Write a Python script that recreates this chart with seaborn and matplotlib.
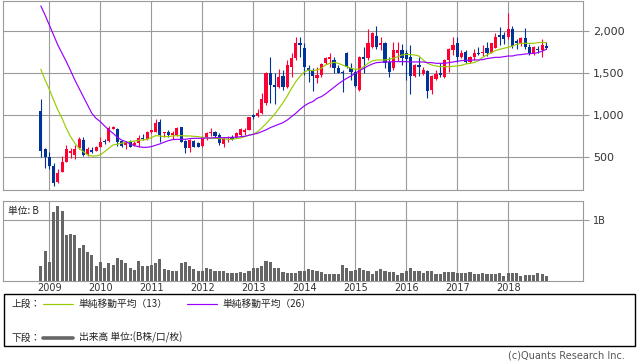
import numpy as np
import pandas as pd
import matplotlib
matplotlib.use("Agg")
import matplotlib.pyplot as plt
import seaborn as sns
from matplotlib.lines import Line2D
from matplotlib.patches import Rectangle

# ---------------- data (monthly, Nov 2008 - Oct 2018) ----------------
start_month = "2008-11"
end_month = "2018-10"

opens = [1052, 599, 508, 401, 202, 329, 448, 555, 532, 607, 706, 540,
         587, 579, 627, 694, 694, 841, 841, 694, 647, 686,
         647, 667, 734, 714, 802, 806, 925, 786, 806, 770,
         766, 865, 698, 607, 698, 667, 635, 738, 786, 798,
         766, 659, 730, 746, 746, 766, 806, 826, 1004, 992,
         1024, 1151, 1500, 1361, 1341, 1468, 1333, 1580, 1679, 1857,
         1798, 1560, 1530, 1440, 1480, 1619, 1675, 1659, 1560, 1520,
         1746, 1567, 1520, 1302, 1690, 1679, 1817, 1944, 1837, 1857,
         1639, 1560, 1738, 1778, 1738, 1698, 1468, 1599, 1492, 1532,
         1302, 1433, 1508, 1460, 1659, 1778, 1857, 1698, 1758, 1639,
         1690, 1746, 1738, 1798, 1746, 1798, 1956, 1956, 1932, 2027,
         1889, 1857, 1917, 1817, 1740, 1790, 1780, 1825]

highs = [1200, 615, 568, 437, 360, 520, 646, 615, 646, 746, 746, 620,
         620, 635, 738, 720, 873, 873, 853, 700, 690, 700,
         690, 760, 778, 810, 830, 956, 956, 806, 830, 810,
         865, 865, 710, 714, 706, 680, 750, 800, 853, 810,
         790, 738, 750, 760, 800, 845, 845, 985, 1020, 1080,
         1262, 1520, 1698, 1500, 1548, 1540, 1659, 1738, 1929, 1929,
         1860, 1600, 1560, 1580, 1620, 1690, 1738, 1690, 1600, 1540,
         1758, 1619, 1540, 1706, 1817, 2024, 1990, 2063, 1937, 1877,
         1700, 1877, 1877, 1850, 1778, 1837, 1612, 1698, 1580, 1540,
         1480, 1540, 1619, 1667, 1798, 1937, 1937, 1778, 1778, 1706,
         1786, 1817, 1837, 1877, 1865, 1976, 2055, 1996, 2222, 2063,
         1910, 1930, 2040, 1850, 1830, 1830, 1905, 1870]

lows = [508, 369, 360, 158, 190, 329, 440, 495, 475, 600, 510, 520,
        550, 575, 625, 660, 686, 835, 635, 625, 600, 620,
        630, 627, 700, 710, 790, 800, 687, 746, 746, 720,
        750, 687, 548, 567, 620, 620, 627, 710, 750, 730,
        650, 627, 680, 700, 730, 750, 770, 820, 960, 985,
        1020, 1120, 1143, 1135, 1320, 1300, 1320, 1452, 1660, 1700,
        1480, 1400, 1294, 1380, 1460, 1610, 1579, 1508, 1500, 1282,
        1560, 1421, 1341, 1294, 1500, 1659, 1800, 1786, 1778, 1560,
        1452, 1540, 1650, 1600, 1421, 1250, 1452, 1468, 1480, 1202,
        1250, 1420, 1460, 1440, 1520, 1720, 1639, 1680, 1627, 1620,
        1660, 1720, 1710, 1710, 1738, 1798, 1837, 1849, 1910, 1798,
        1790, 1820, 1790, 1718, 1720, 1740, 1698, 1790]

closes = [579, 500, 401, 199, 317, 448, 599, 579, 603, 714, 532, 595,
          567, 627, 686, 682, 853, 861, 686, 635, 682, 627,
          667, 734, 714, 806, 825, 913, 766, 798, 766, 794,
          845, 687, 607, 706, 627, 627, 746, 786, 798, 754,
          667, 714, 746, 718, 794, 833, 825, 976, 976, 1032,
          1190, 1500, 1361, 1341, 1460, 1333, 1600, 1679, 1857, 1837,
          1571, 1530, 1470, 1480, 1607, 1679, 1690, 1560, 1508, 1508,
          1579, 1520, 1349, 1698, 1675, 1857, 1976, 1817, 1857, 1619,
          1520, 1778, 1778, 1679, 1667, 1468, 1599, 1579, 1540, 1294,
          1468, 1492, 1480, 1659, 1786, 1837, 1698, 1746, 1639, 1690,
          1746, 1730, 1758, 1738, 1857, 1937, 1929, 1908, 2030, 1825,
          1865, 1917, 1817, 1740, 1813, 1775, 1837, 1806]

ma13 = [1548, 1421, 1310, 1183, 1064, 964, 845, 746, 667, 607, 567, 528,
        516, 516, 528, 567, 607, 647, 655, 667, 679, 687,
        694, 702, 706, 714, 734, 758, 754, 746, 746, 754,
        758, 758, 754, 754, 750, 746, 738, 730, 726, 726,
        722, 722, 714, 714, 722, 730, 746, 766, 774, 805,
        850, 900, 955, 1010, 1080, 1150, 1230, 1320, 1400, 1465,
        1515, 1540, 1532, 1540, 1560, 1599, 1619, 1631, 1619, 1599,
        1579, 1560, 1548, 1548, 1579, 1619, 1647, 1659, 1659, 1659,
        1667, 1679, 1698, 1718, 1726, 1722, 1718, 1706, 1659, 1619,
        1599, 1587, 1579, 1579, 1579, 1583, 1587, 1595, 1611, 1619,
        1627, 1651, 1690, 1718, 1746, 1770, 1786, 1798, 1810, 1825,
        1845, 1857, 1857, 1857, 1857, 1865, 1869, 1865]

ma26 = [2302, 2194, 2075, 1956, 1837, 1738, 1639, 1532, 1421, 1321, 1222, 1123,
        1024, 964, 925, 873, 826, 786, 738, 706, 687, 659,
        639, 627, 619, 619, 627, 643, 659, 679, 698, 710,
        714, 714, 714, 722, 726, 726, 726, 730, 730, 734,
        734, 734, 734, 738, 738, 746, 750, 762, 774, 786,
        806, 826, 853, 873, 893, 913, 944, 984, 1024, 1071,
        1111, 1143, 1163, 1202, 1222, 1254, 1294, 1333, 1373, 1409,
        1440, 1468, 1500, 1532, 1560, 1587, 1611, 1627, 1631, 1635,
        1635, 1639, 1639, 1639, 1639, 1635, 1635, 1635, 1635, 1627,
        1627, 1619, 1619, 1619, 1627, 1635, 1643, 1651, 1655, 1655,
        1659, 1659, 1663, 1675, 1683, 1690, 1690, 1698, 1706, 1706,
        1718, 1722, 1730, 1734, 1738, 1746, 1765, 1786]

volume_b = [0.23, 0.48, 0.31, 1.12, 1.22, 1.14, 0.74, 0.77, 0.74, 0.54, 0.59, 0.47,
            0.41, 0.24, 0.30, 0.20, 0.28, 0.26, 0.37, 0.34, 0.28, 0.21,
            0.18, 0.32, 0.24, 0.23, 0.26, 0.28, 0.36, 0.19, 0.18, 0.16,
            0.16, 0.28, 0.30, 0.23, 0.19, 0.15, 0.15, 0.20, 0.19, 0.16,
            0.16, 0.15, 0.13, 0.13, 0.13, 0.14, 0.13, 0.15, 0.21, 0.21,
            0.23, 0.32, 0.30, 0.21, 0.20, 0.14, 0.12, 0.13, 0.13, 0.15,
            0.16, 0.19, 0.17, 0.16, 0.14, 0.11, 0.11, 0.11, 0.11, 0.26,
            0.21, 0.15, 0.18, 0.20, 0.18, 0.16, 0.11, 0.16, 0.19, 0.15,
            0.14, 0.14, 0.09, 0.12, 0.16, 0.21, 0.16, 0.15, 0.12, 0.15,
            0.15, 0.11, 0.11, 0.14, 0.14, 0.14, 0.13, 0.12, 0.12, 0.14,
            0.11, 0.11, 0.12, 0.10, 0.10, 0.11, 0.13, 0.08, 0.12, 0.13,
            0.12, 0.08, 0.09, 0.09, 0.09, 0.12, 0.10, 0.07]

year_labels = ["2009", "2010", "2011", "2012", "2013",
               "2014", "2015", "2016", "2017", "2018"]
price_ticks = [500, 1000, 1500, 2000]
price_tick_labels = ["500", "1,000", "1,500", "2,000"]
vol_ticks = [1.0]
vol_tick_labels = ["1B"]

# ---------------- build frame ----------------
periods = pd.period_range(start_month, end_month, freq="M")
df = pd.DataFrame({
    "x": (periods.year - int(year_labels[0])) * 12 + (periods.month - 1),
    "open": opens, "high": highs, "low": lows, "close": closes,
    "ma13": ma13, "ma26": ma26, "vol": volume_b,
})
year_pos = [(int(y) - int(year_labels[0])) * 12 for y in year_labels]

UP, DOWN = "#FF0033", "#003399"
GRID = "#9a9a9a"
JP = ["Noto Sans CJK JP", "DejaVu Sans"]

sns.set_style("white")
plt.rcParams["font.family"] = ["DejaVu Sans", "Noto Sans CJK JP"]

W, H = 638, 362
fig = plt.figure(figsize=(W / 100, H / 100), dpi=100)
fx = lambda px: px / W
fy = lambda py: 1 - py / H

ax = fig.add_axes([fx(3), fy(190), fx(580), 189.5 / H])
axv = fig.add_axes([fx(3), fy(280.5), fx(580), 79.5 / H])

xlim = (-10.9, 125.6)

# ---- price panel ----
colors = np.where(df["close"] >= df["open"], UP, DOWN)
ax.vlines(df["x"], df["low"], df["high"], colors=colors, lw=0.8, zorder=3)
body_lo = np.minimum(df["open"], df["close"])
body_h = np.maximum((df["close"] - df["open"]).abs(), 10)
ax.bar(df["x"], body_h, bottom=body_lo, width=0.72, color=colors, lw=0, zorder=4)
sns.lineplot(data=df, x="x", y="ma13", ax=ax, color="#99CC00", lw=0.85, zorder=5)
sns.lineplot(data=df, x="x", y="ma26", ax=ax, color="#9900FF", lw=0.85, zorder=5)

ax.set_xlim(*xlim)
ax.set_ylim(110.7, 2366.7)
ax.set_xticks(year_pos)
ax.set_xticklabels([])
ax.set_xlabel("")
ax.set_ylabel("")
ax.yaxis.tick_right()
ax.set_yticks(price_ticks)
ax.set_yticklabels(price_tick_labels)
ax.tick_params(axis="x", length=0)
ax.tick_params(axis="y", length=4, width=0.8, color=GRID, pad=3, labelsize=8,
               labelcolor="#333333")
ax.grid(True, color=GRID, lw=0.8)
ax.set_axisbelow(True)
for s in ax.spines.values():
    s.set_color(GRID)
    s.set_linewidth(0.8)

# ---- volume panel ----
axv.bar(df["x"], df["vol"], width=0.72, color="#666666", lw=0, zorder=3)
axv.set_xlim(*xlim)
axv.set_ylim(0, 79.5 / 61)
axv.set_xticks(year_pos)
axv.set_xticklabels(year_labels)
axv.yaxis.tick_right()
axv.set_yticks(vol_ticks)
axv.set_yticklabels(vol_tick_labels)
axv.tick_params(axis="x", length=0, pad=2, labelsize=7, labelcolor="#333333")
axv.tick_params(axis="y", length=4, width=0.8, color=GRID, pad=3, labelsize=7,
                labelcolor="#333333")
axv.grid(True, color=GRID, lw=0.8)
axv.set_axisbelow(True)
for s in axv.spines.values():
    s.set_color(GRID)
    s.set_linewidth(0.8)
fig.text(fx(8), fy(210.5), "単位: B", family=JP, fontsize=7, color="#222222",
         ha="left", va="center")

# ---- legend box ----
fig.add_artist(Rectangle((fx(3.5), fy(346)), fx(631), 52 / H, fill=False,
                         edgecolor="black", lw=1, transform=fig.transFigure))
fig.text(fx(12), fy(303.5), "上段：", family=JP, fontsize=7, ha="left", va="center",
         color="#222222")
fig.add_artist(Line2D([fx(43), fx(73)], [fy(303.5)] * 2, color="#99CC00", lw=0.85,
                      transform=fig.transFigure))
fig.text(fx(78), fy(303.5), "単純移動平均（13）", family=JP, fontsize=7, ha="left",
         va="center", color="#222222")
fig.add_artist(Line2D([fx(187), fx(217)], [fy(303.5)] * 2, color="#9900FF", lw=0.85,
                      transform=fig.transFigure))
fig.text(fx(222), fy(303.5), "単純移動平均（26）", family=JP, fontsize=7, ha="left",
         va="center", color="#222222")
fig.text(fx(12), fy(337.5), "下段：", family=JP, fontsize=7, ha="left", va="center",
         color="#222222")
fig.add_artist(Line2D([fx(43), fx(73)], [fy(337.5)] * 2, color="#666666", lw=2.6,
                      transform=fig.transFigure))
fig.text(fx(79), fy(337.5), "出来高 単位:(B株/口/枚)", family=JP, fontsize=7,
         ha="left", va="center", color="#222222")

fig.text(fx(625), fy(356), "(c)Quants Research Inc.", fontsize=7, ha="right",
         va="center", color="#555555")

fig.savefig("out.png", dpi=100)
